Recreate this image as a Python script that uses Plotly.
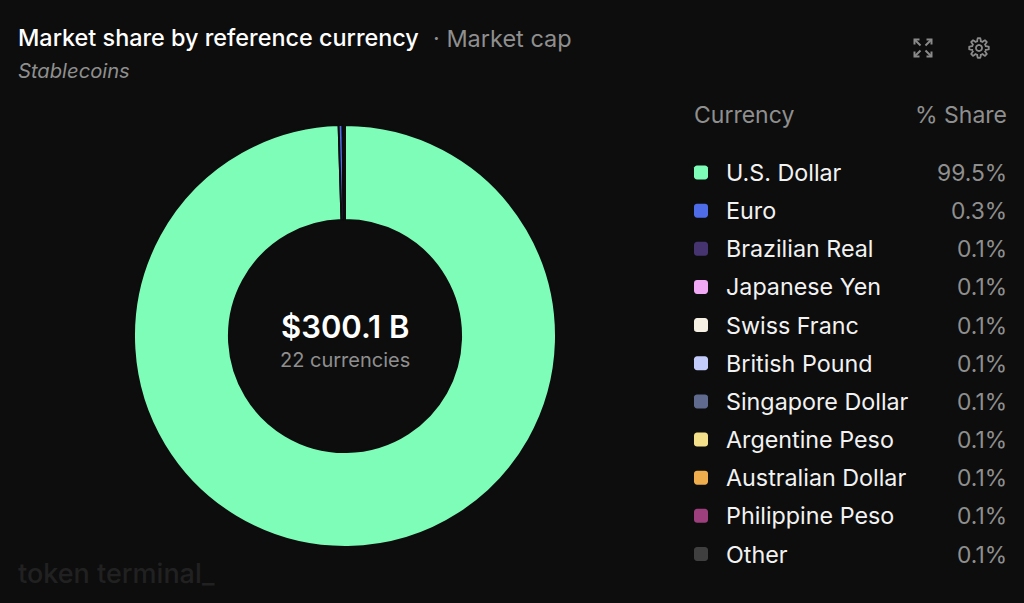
import math

import plotly.graph_objects as go

W, H = 1024, 603
BG = "#0d0d0d"
FONT = "Inter, Noto Sans, sans-serif"

currencies = [
    "U.S. Dollar", "Euro", "Brazilian Real", "Japanese Yen", "Swiss Franc",
    "British Pound", "Singapore Dollar", "Argentine Peso", "Australian Dollar",
    "Philippine Peso", "Other",
]
share_labels = [
    "99.5%", "0.3%", "0.1%", "0.1%", "0.1%", "0.1%",
    "0.1%", "0.1%", "0.1%", "0.1%", "0.1%",
]
# slices as drawn: the tiny ones are much thinner than their rounded label
slice_values = [99.5, 0.3, 0.02, 0.02, 0.02, 0.02, 0.02, 0.02, 0.02, 0.02, 0.02]
colors = [
    "#7dfdb8", "#4f6ce8", "#453470", "#f2a9f5", "#f5f0e3", "#c2cbfa",
    "#5f6a8e", "#f4e08a", "#f0ad4e", "#9c3f7c", "#3f3f3f",
]


def px(x):
    return x / W


def py(y):
    return 1 - y / H


def text(x, y, s, size, color, anchor="left", weight=400, style="normal"):
    # annotations carry a small inner padding, pull it back
    shift = {"left": -2, "right": 3, "center": 0}[anchor]
    return dict(
        x=px(x), y=py(y), xref="paper", yref="paper", text=s, showarrow=False,
        xanchor=anchor, yanchor="middle", xshift=shift,
        font=dict(family=FONT, size=size, color=color, weight=weight, style=style),
    )


def path_shape(points, fill=None, line=None, width=1.5, close=True):
    d = "M " + " L ".join(f"{px(a):.5f},{py(b):.5f}" for a, b in points)
    if close:
        d += " Z"
    return dict(
        type="path", xref="paper", yref="paper", path=d,
        fillcolor=fill if fill else "rgba(0,0,0,0)",
        line=dict(color=line if line else "rgba(0,0,0,0)", width=width if line else 0),
    )


def swatch(x, y, size, color, r=3):
    pts = []
    corners = [(x + size - r, y + r, -90), (x + size - r, y + size - r, 0),
               (x + r, y + size - r, 90), (x + r, y + r, 180)]
    for cx, cy, start in corners:
        for k in range(5):
            a = math.radians(start + k * 22.5)
            pts.append((cx + r * math.cos(a), cy + r * math.sin(a)))
    return path_shape(pts, fill=color)


def gear(cx, cy):
    pts = []
    for k in range(97):
        a = 2 * math.pi * k / 96
        r = 8.4 + 1.4 * max(-1, min(1, 2.2 * math.cos(8 * a)))
        pts.append((cx + r * math.cos(a), cy + r * math.sin(a)))
    ring = [(cx + 3 * math.cos(2 * math.pi * k / 32), cy + 3 * math.sin(2 * math.pi * k / 32))
            for k in range(33)]
    return [path_shape(pts, line="#8a8a8a", width=1.8), path_shape(ring, line="#8a8a8a", width=1.8)]


def expand(cx, cy):
    shapes = []
    for sx in (-1, 1):
        for sy in (-1, 1):
            corner = (cx + sx * 8.5, cy + sy * 8.5)
            shapes.append(path_shape(
                [(corner[0] - sx * 5, corner[1]), corner, (corner[0], corner[1] - sy * 5)],
                line="#8a8a8a", width=2, close=False,
            ))
            shapes.append(path_shape(
                [corner, (cx + sx * 2.5, cy + sy * 2.5)], line="#8a8a8a", width=2, close=False,
            ))
    return shapes


fig = go.Figure(
    go.Pie(
        labels=currencies, values=slice_values, hole=0.55, sort=False,
        direction="clockwise", rotation=0, textinfo="none", showlegend=False,
        marker=dict(colors=colors, line=dict(color=BG, width=2)),
        domain=dict(x=[px(134), px(556)], y=[py(547), py(125)]),
    )
)

annotations = [
    text(18, 37, "Market share by reference currency", 23.4, "#ffffff", weight=500),
    text(433, 38, "· Market cap", 23.5, "#8f8f8f"),
    text(18, 70, "Stablecoins", 20.2, "#8f8f8f", style="italic"),
    text(694, 115.5, "Currency", 23, "#8f8f8f"),
    text(1006, 115.5, "% Share", 23, "#8f8f8f", anchor="right"),
    text(345, 326, "$300.1 B", 31, "#ffffff", anchor="center", weight=600),
    text(345, 359.5, "22 currencies", 20, "#8f8f8f", anchor="center"),
    text(18, 573, "token terminal_", 27, "#212121", weight=500),
]
shapes = expand(923, 48) + gear(979, 48)

for i, name in enumerate(currencies):
    row_y = 172.5 + i * 38.15
    shapes.append(swatch(694, row_y - 7, 14, colors[i]))
    annotations.append(text(726, row_y, name, 23.3, "#f2f2f2"))
    annotations.append(text(1006, row_y, share_labels[i], 22.8, "#8f8f8f", anchor="right"))

fig.update_layout(
    width=W, height=H, autosize=False,
    margin=dict(l=0, r=0, t=0, b=0),
    paper_bgcolor=BG, plot_bgcolor=BG,
    annotations=annotations, shapes=shapes,
)
fig.write_html("out.html", post_script="document.body.style.margin='0';", config={"displayModeBar": False})
